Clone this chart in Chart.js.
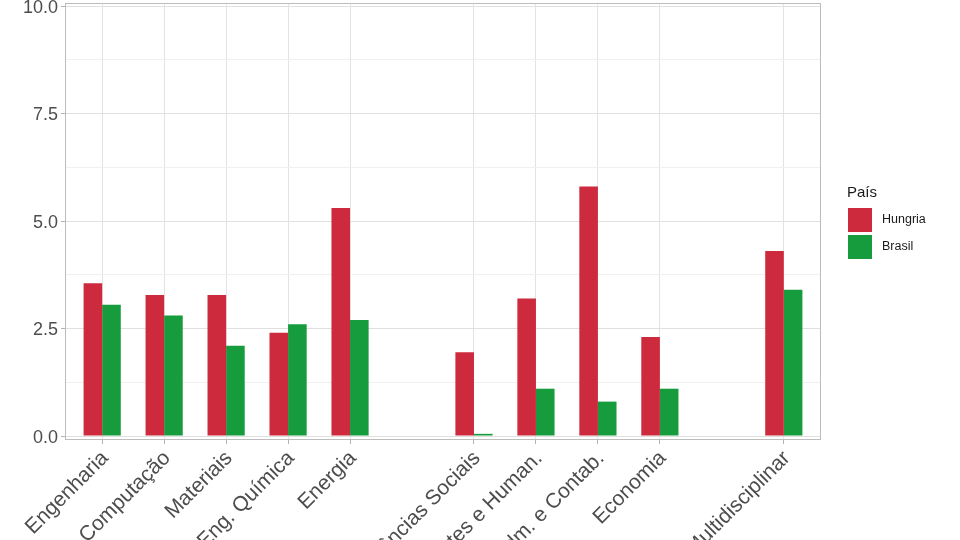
<!DOCTYPE html>
<html><head><meta charset="utf-8">
<script src="https://cdn.jsdelivr.net/npm/chart.js@4.4.1/dist/chart.umd.min.js"></script>
<style>html,body{margin:0;padding:0;background:#fff;overflow:hidden}</style>
</head><body>
<canvas id="c" width="960" height="540"></canvas>
<script>
const categories = ['Engenharia','Computação','Materiais','Eng. Química','Energia','','Ciências Sociais','Artes e Human.','Adm. e Contab.','Economia','','Multidisciplinar'];
const hungria = [3.55,3.28,3.28,2.4,5.3,null,1.95,3.2,5.8,2.3,null,4.3];
const brasil  = [3.05,2.8,2.1,2.6,2.7,null,0.05,1.1,0.8,1.1,null,3.4];
const yTicks = [0,1.25,2.5,3.75,5,6.25,7.5,8.75,10];
const seriesNames = ['Hungria','Brasil'];
const legendTitle = 'País';

const COLORS = ['#CD2A3E','#169C3D'];
const FONT = '"Liberation Sans", Arial, Helvetica, sans-serif';
const toPoints = arr => arr.map((v,i)=> v==null ? null : {x:i, y:v}).filter(Boolean);
const isMajor = v => Math.abs(v/2.5 - Math.round(v/2.5)) < 1e-6;

const panelPlugin = {
  id:'panel',
  afterDraw(chart){
    const {ctx, chartArea:a} = chart;
    ctx.save();
    ctx.strokeStyle = '#bdbdbd';
    ctx.lineWidth = 1;
    ctx.strokeRect(a.left+0.5, a.top+0.5, a.right-a.left-1, a.bottom-a.top-1);
    // legend
    ctx.fillStyle = '#1a1a1a';
    ctx.font = '15px ' + FONT;
    ctx.textAlign = 'left';
    ctx.textBaseline = 'alphabetic';
    ctx.fillText(legendTitle, 847, 197);
    ctx.font = '12.5px ' + FONT;
    ctx.textBaseline = 'middle';
    seriesNames.forEach((n,i)=>{
      const y = 208 + i*27;
      ctx.fillStyle = COLORS[i];
      ctx.fillRect(848, y, 24, 24);
      ctx.fillStyle = '#1a1a1a';
      ctx.fillText(n, 882, y+12);
    });
    ctx.restore();
  }
};

const zeroPad = s => { s.paddingTop = 0; s.paddingBottom = 0; s.paddingLeft = 0; s.paddingRight = 0; };

new Chart(document.getElementById('c'), {
  type:'bar',
  data:{
    datasets: seriesNames.map((n,i)=>({
      label:n,
      data: toPoints(i===0 ? hungria : brasil),
      backgroundColor: COLORS[i],
      borderWidth:0,
      categoryPercentage:0.6,
      barPercentage:1.0
    }))
  },
  options:{
    responsive:false,
    animation:false,
    devicePixelRatio:1,
    layout:{padding:{top:3,right:139,left:0,bottom:0}},
    plugins:{legend:{display:false}, tooltip:{enabled:false}},
    scales:{
      x:{
        type:'linear', min:-0.6, max:11.6, offset:false,
        afterBuildTicks: s => { s.ticks = categories.map((c,i)=>({value:i, c})).filter(t=>t.c).map(t=>({value:t.value})); },
        afterFit: s => { s.height = 100; zeroPad(s); },
        ticks:{
          callback: v => categories[v],
          autoSkip:false, minRotation:45, maxRotation:45,
          color:'#4d4d4d', font:{family:FONT, size:21}, padding:2, labelOffset:3
        },
        grid:{offset:false, color:'#e3e3e3', lineWidth:1, tickColor:'#b3b3b3', tickLength:4},
        border:{display:false}
      },
      y:{
        min:-0.093, max:10.07,
        afterBuildTicks: s => { s.ticks = yTicks.map(v=>({value:v})); },
        afterFit: s => { s.width = 65; zeroPad(s); },
        ticks:{
          callback: v => isMajor(v) ? v.toFixed(1) : '',
          color:'#4d4d4d', font:{family:FONT, size:18}, padding:3, labelOffset:2
        },
        grid:{
          offset:false,
          color: c => (c.tick && isMajor(c.tick.value)) ? '#e0e0e0' : '#f0f0f0',
          tickColor: c => (c.tick && isMajor(c.tick.value)) ? '#b3b3b3' : 'rgba(0,0,0,0)',
          lineWidth:1, tickLength:4
        },
        border:{display:false}
      }
    }
  },
  plugins:[panelPlugin]
});
</script>
</body></html>
